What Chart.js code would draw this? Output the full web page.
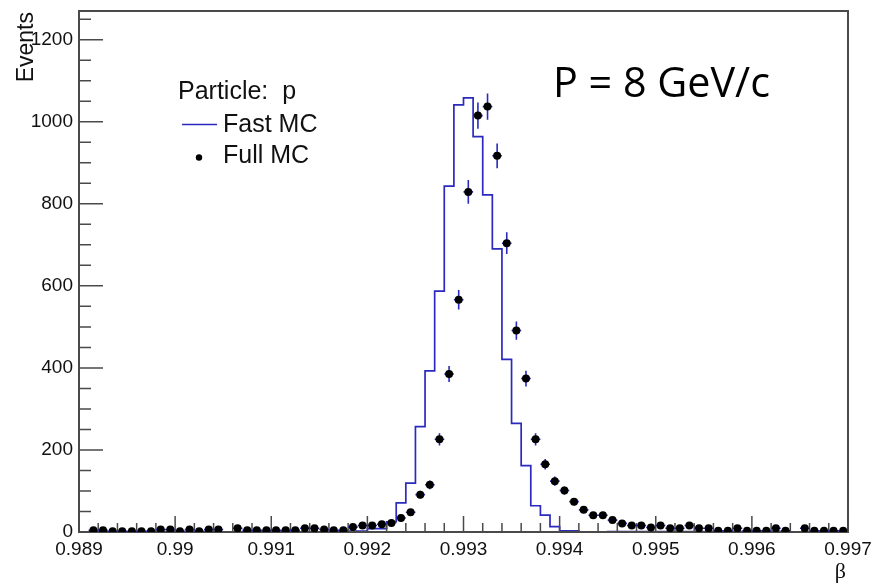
<!DOCTYPE html>
<html><head><meta charset="utf-8">
<script src="https://cdn.jsdelivr.net/npm/chart.js@4.4.1/dist/chart.umd.min.js"></script>
<style>html,body{margin:0;padding:0;background:#fff;overflow:hidden}</style>
</head><body>
<canvas id="c" width="879" height="588"></canvas>
<script>
// ---- binning / axes ----
const xMin = 0.989, xMax = 0.997, binWidth = 0.0001;
const yMin = 0, yMax = 1270;
const xTickValues = [0.989, 0.990, 0.991, 0.992, 0.993, 0.994, 0.995, 0.996, 0.997];
const xTickLabels = ['0.989', '0.99', '0.991', '0.992', '0.993', '0.994', '0.995', '0.996', '0.997'];
const yTickValues = [0, 200, 400, 600, 800, 1000, 1200];
const yTickLabels = ['0', '200', '400', '600', '800', '1000', '1200'];
const xMinorStep = 0.0002, yMinorStep = 50;

// ---- series (80 bins, 0.989 .. 0.997) ----
const fastMC = [
  0, 0, 0, 0, 0, 0, 0, 0, 1, 1,
  1, 1, 1, 1, 1, 0, 0, 0, 0, 0,
  0, 0, 0, 0, 0, 0, 0, 0, 2, 2,
  2, 8, 8, 25, 71, 119, 257, 393, 587, 843,
  1041, 1058, 964, 822, 690, 421, 265, 162, 64, 41,
  13, 3, 3, 0, 0, 0, 1, 1, 1, 1,
  1, 1, 1, 1, 1, 1, 1, 1, 1, 1,
  1, 1, 1, 1, 0, 0, 0, 0, 0, 0
];
const fullMC = [
  null, 4, 4, 2, 2, 2, 2, 2, 6, 6,
  2, 6, 2, 6, 6, null, 9, 4, 4, 4,
  4, 4, 4, 9, 9, 6, 4, 4, 12, 16,
  16, 19, 22, 34, 48, 91, 115, 226, 385, 566,
  829, 1015, 1037, 917, 704, 491, 374, 226, 165, 124,
  101, 74, 54, 41, 41, 29, 21, 16, 16, 11,
  16, 9, 9, 16, 9, 9, 3, 3, 9, 3,
  3, 3, 9, 3, null, 9, 3, 3, 3, 3
];
const fullMCErr = [
  0, 2, 2, 1.4, 1.4, 1.4, 1.4, 1.4, 2.4, 2.4,
  1.4, 2.4, 1.4, 2.4, 2.4, 0, 3, 2, 2, 2,
  2, 2, 2, 3, 3, 2.4, 2, 2, 3.5, 4,
  4, 4.4, 4.7, 5.8, 6.9, 9.5, 10.7, 15, 19.6, 23.8,
  28.8, 31.9, 32.2, 30.3, 26.5, 22.2, 19.3, 15, 12.8, 11.1,
  10, 8.6, 7.3, 6.4, 6.4, 5.4, 4.6, 4, 4, 3.3,
  4, 3, 3, 4, 3, 3, 1.7, 1.7, 3, 1.7,
  1.7, 1.7, 3, 1.7, 0, 3, 1.7, 1.7, 1.7, 1.7
];
const seriesNames = ['Fast MC', 'Full MC'];
const legendTitle = 'Particle:  p';
const annotationText = 'P = 8 GeV/c';
const xTitle = 'β', yTitle = 'Events';

// ---- styles ----
const BLUE = 'rgb(42,42,190)';
const FRAME = '#4a4a4a';
const SANS = '"Liberation Sans", Arial, sans-serif';

// build dataset points from the arrays
const fastPts = fastMC.map((v, i) => ({x: xMin + i * binWidth, y: v}));
fastPts.push({x: xMax, y: fastMC[fastMC.length - 1]});
const fullPts = [];
fullMC.forEach((v, i) => { if (v !== null) fullPts.push({x: xMin + (i + 0.5) * binWidth, y: v, e: fullMCErr[i]}); });

const rootPlugin = {
  id: 'rootStyle',
  beforeDatasetDraw(chart, args) {
    if (args.index !== 0) return;
    const ctx = chart.ctx, a = chart.chartArea;
    const xs = chart.scales.x, ys = chart.scales.y;
    ctx.save();
    // frame
    ctx.strokeStyle = FRAME; ctx.lineWidth = 2;
    ctx.strokeRect(a.left, a.top, a.right - a.left, a.bottom - a.top);
    // ticks (inward)
    ctx.lineWidth = 1.5;
    ctx.beginPath();
    const nx = Math.round((xMax - xMin) / xMinorStep);
    for (let k = 0; k <= nx; k++) {
      const px = xs.getPixelForValue(xMin + k * xMinorStep);
      const len = (k % 5 === 0) ? 16 : 9;
      ctx.moveTo(px, a.bottom); ctx.lineTo(px, a.bottom - len);
    }
    const ny = Math.floor((yMax - yMin) / yMinorStep);
    for (let k = 0; k <= ny; k++) {
      const v = yMin + k * yMinorStep;
      const py = ys.getPixelForValue(v);
      const len = (v % 200 === 0) ? 24 : 12;
      ctx.moveTo(a.left, py); ctx.lineTo(a.left + len, py);
    }
    ctx.stroke();
    // error bars for Full MC
    ctx.strokeStyle = BLUE; ctx.lineWidth = 1.6;
    ctx.beginPath();
    fullPts.forEach(p => {
      const cx = xs.getPixelForValue(p.x), cy = ys.getPixelForValue(p.y);
      const x1 = xs.getPixelForValue(p.x - binWidth / 2), x2 = xs.getPixelForValue(p.x + binWidth / 2);
      ctx.moveTo(x1, cy); ctx.lineTo(x2, cy);
      ctx.moveTo(cx, ys.getPixelForValue(p.y - p.e)); ctx.lineTo(cx, ys.getPixelForValue(p.y + p.e));
    });
    ctx.stroke();
    ctx.restore();
  },
  afterDraw(chart) {
    const ctx = chart.ctx, a = chart.chartArea;
    const xs = chart.scales.x;
    ctx.save();
    ctx.fillStyle = '#111';
    // x tick labels, positioned by the x scale
    ctx.font = '19px ' + SANS;
    ctx.textAlign = 'center'; ctx.textBaseline = 'alphabetic';
    xTickValues.forEach((v, i) => ctx.fillText(xTickLabels[i], xs.getPixelForValue(v), a.bottom + 22.5));
    // y title
    ctx.save();
    ctx.translate(33, 12);
    ctx.rotate(-Math.PI / 2);
    ctx.font = '23px ' + SANS;
    ctx.textAlign = 'right';
    ctx.fillText(yTitle, 0, 0);
    ctx.restore();
    // x title
    ctx.font = '22px "Liberation Serif", serif';
    ctx.textAlign = 'right';
    ctx.fillText(xTitle, 846, 578);
    // legend
    ctx.textAlign = 'left';
    ctx.font = '25px ' + SANS;
    ctx.fillText(legendTitle, 178, 99);
    ctx.fillText(seriesNames[0], 223, 132);
    ctx.fillText(seriesNames[1], 223, 163);
    ctx.strokeStyle = BLUE; ctx.lineWidth = 1.6;
    ctx.beginPath(); ctx.moveTo(182, 124.5); ctx.lineTo(217, 124.5); ctx.stroke();
    ctx.fillStyle = '#000';
    ctx.beginPath(); ctx.arc(199, 157.5, 3.2, 0, Math.PI * 2); ctx.fill();
    // annotation
    ctx.font = '40px "Open Sans", sans-serif';
    const w = ctx.measureText(annotationText).width;
    const fs = 40 * 217 / w;
    ctx.font = fs.toFixed(2) + 'px "Open Sans", sans-serif';
    ctx.fillText(annotationText, 553, 97);
    ctx.restore();
  }
};

function zeroPad(s) { s.paddingLeft = 0; s.paddingRight = 0; s.paddingTop = 0; s.paddingBottom = 0; }

const chart = new Chart(document.getElementById('c'), {
  type: 'line',
  data: {
    datasets: [
      {
        label: seriesNames[1], data: fullPts, showLine: false,
        pointRadius: 4, pointHoverRadius: 4, pointStyle: 'circle',
        pointBackgroundColor: '#000', pointBorderColor: '#000', pointBorderWidth: 0
      },
      {
        label: seriesNames[0], data: fastPts, stepped: 'after',
        borderColor: BLUE, borderWidth: 1.7, pointRadius: 0, fill: false, tension: 0
      }
    ]
  },
  options: {
    responsive: false, animation: false, devicePixelRatio: 1,
    layout: {padding: {left: 0, top: 11, right: 31, bottom: 0}},
    plugins: {legend: {display: false}, tooltip: {enabled: false}},
    scales: {
      x: {
        type: 'linear', min: xMin, max: xMax,
        grid: {display: false, drawTicks: false}, border: {display: false},
        ticks: {display: false},
        afterBuildTicks: s => { s.ticks = xTickValues.map(v => ({value: v})); },
        afterFit: s => { s.height = 56; zeroPad(s); }
      },
      y: {
        type: 'linear', min: yMin, max: yMax,
        grid: {display: false, drawTicks: false}, border: {display: false},
        ticks: {font: {family: 'Liberation Sans', size: 19}, color: '#111', padding: 6, autoSkip: false,
          callback: (v, i) => yTickLabels[i]},
        afterBuildTicks: s => { s.ticks = yTickValues.map(v => ({value: v})); },
        afterFit: s => { s.width = 79; zeroPad(s); }
      }
    }
  },
  plugins: [rootPlugin]
});
</script>
</body></html>
